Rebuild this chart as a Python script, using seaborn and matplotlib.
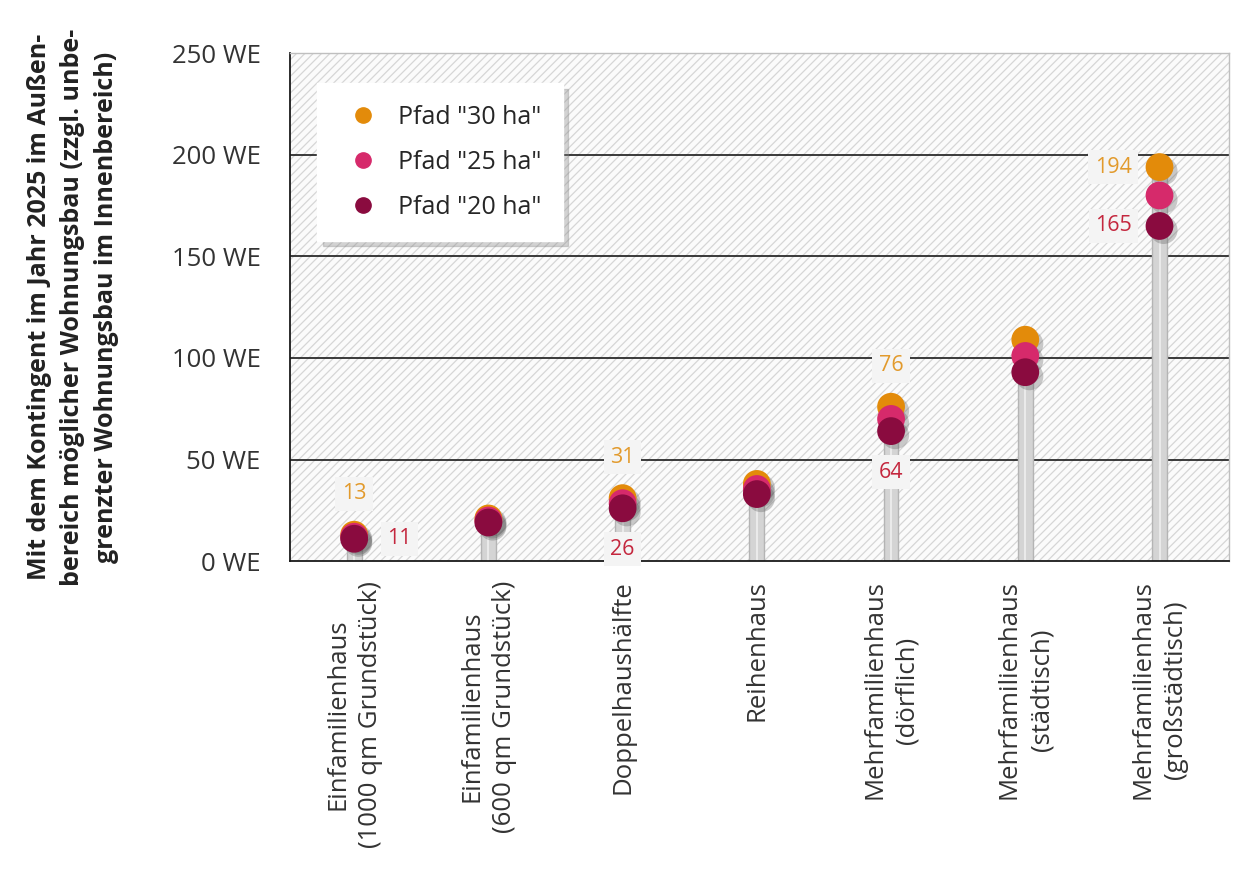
import pandas as pd
import matplotlib.pyplot as plt
import matplotlib.patheffects as pe
from matplotlib.lines import Line2D
from matplotlib.patches import Rectangle
import seaborn as sns

# Kategorien und Werte (WE) je Pfad
kategorien = [
    "Einfamilienhaus\n(1000 qm Grundstück)",
    "Einfamilienhaus\n(600 qm Grundstück)",
    "Doppelhaushälfte",
    "Reihenhaus",
    "Mehrfamilienhaus\n(dörflich)",
    "Mehrfamilienhaus\n(städtisch)",
    "Mehrfamilienhaus\n(großstädtisch)",
]
pfad_30 = [13, 21, 31, 38, 76, 109, 194]
pfad_25 = [12, 20, 28.5, 35.5, 70, 101, 180]
pfad_20 = [11, 19, 26, 33, 64, 93, 165]
pfade = ['Pfad "30 ha"', 'Pfad "25 ha"', 'Pfad "20 ha"']
farben = ["#E38B0A", "#D62A6B", "#8A0B3F"]
yticks = [0, 50, 100, 150, 200, 250]

# welche Werte beschriftet werden (Kategorie-Index)
labels_oben = [0, 2, 4]
labels_unten = [2, 4]

df = pd.DataFrame({
    "kategorie": kategorien * 3,
    "wert": pfad_30 + pfad_25 + pfad_20,
    "pfad": [pfade[0]] * 7 + [pfade[1]] * 7 + [pfade[2]] * 7,
})
df_stem = pd.DataFrame({"kategorie": kategorien, "wert": pfad_30})

sns.set_style("white")
plt.rcParams["font.family"] = ["Open Sans", "DejaVu Sans"]
plt.rcParams["hatch.linewidth"] = 0.9

fig = plt.figure(figsize=(12.33, 8.74), dpi=100)
ax = fig.add_axes([0.235, 0.358, 0.762, 0.581])

# schraffierter Hintergrund
ax.add_patch(Rectangle((0, 0), 1, 1, transform=ax.transAxes, facecolor="#fbfbfb",
                       edgecolor="#d6d6d6", hatch="////", lw=0, zorder=0))

# Gitterlinien
for yv in yticks[1:-1]:
    ax.axhline(yv, color="#1a1a1a", lw=1.2, zorder=1)

# Stiele
sns.barplot(data=df_stem, x="kategorie", y="wert", order=kategorien, width=0.11,
            color="#d4d4d4", edgecolor="#b4b4b4", linewidth=1.0, ax=ax, zorder=2)
ax.vlines(range(len(kategorien)), 0, pfad_30, color="#efefef", lw=1.2, zorder=2.5)

# Punkte
sns.stripplot(data=df, x="kategorie", y="wert", hue="pfad", order=kategorien,
              hue_order=pfade, palette=farben, jitter=False, dodge=False, size=20,
              linewidth=0, legend=False, ax=ax, zorder=4)
for coll in ax.collections:
    coll.set_path_effects([pe.SimplePatchShadow(offset=(3, -3), shadow_rgbFace="#555555", alpha=0.3),
                           pe.Normal()])

# Wertbeschriftungen
box = dict(boxstyle="square,pad=0.3", fc="#f4f4f4", ec="none")
fs_lab = 15.5
for i in labels_oben:
    ax.annotate(f"{pfad_30[i]:g}", (i, pfad_30[i]), xytext=(0, 22), textcoords="offset points",
                ha="center", va="bottom", fontsize=fs_lab, color="#E29A2C", bbox=box, zorder=5)
for i in labels_unten:
    ax.annotate(f"{pfad_20[i]:g}", (i, pfad_20[i]), xytext=(0, -22), textcoords="offset points",
                ha="center", va="top", fontsize=fs_lab, color="#C4273E", bbox=box, zorder=5)
ax.annotate(f"{pfad_20[0]:g}", (0, pfad_20[0]), xytext=(24, 0), textcoords="offset points",
            ha="left", va="center", fontsize=fs_lab, color="#C4273E", bbox=box, zorder=5)
ax.annotate(f"{pfad_30[6]:g}", (6, pfad_30[6]), xytext=(-20, 0), textcoords="offset points",
            ha="right", va="center", fontsize=fs_lab, color="#E29A2C", bbox=box, zorder=5)
ax.annotate(f"{pfad_20[6]:g}", (6, pfad_20[6]), xytext=(-20, 0), textcoords="offset points",
            ha="right", va="center", fontsize=fs_lab, color="#C4273E", bbox=box, zorder=5)

# Achsen
ax.set_xlim(-0.48, 6.52)
ax.set_ylim(0, 250)
ax.set_yticks(yticks)
ax.set_yticklabels([f"{v} WE" for v in yticks], fontsize=18.5, color="#333333")
ax.tick_params(axis="y", length=0, pad=21)
ax.tick_params(axis="x", length=0, pad=14)
ax.set_xticks(range(len(kategorien)))
ax.set_xticklabels(kategorien, rotation=90, fontsize=18.5, color="#333333",
                   ha="center", va="top", multialignment="center", linespacing=1.4)
ax.set_xlabel("")
ax.set_ylabel("Mit dem Kontingent im Jahr 2025 im Außen-\nbereich möglicher Wohnungsbau (zzgl. unbe-\n"
              "grenzter Wohnungsbau im Innenbereich)", fontsize=18, fontweight="bold",
              color="#222222", labelpad=38, linespacing=1.45)
for side in ["left", "bottom"]:
    ax.spines[side].set_color("#1a1a1a")
    ax.spines[side].set_linewidth(1.3)
for side in ["top", "right"]:
    ax.spines[side].set_color("#bfbfbf")
    ax.spines[side].set_linewidth(1.0)

# Legende
handles = [Line2D([], [], marker="o", ls="", color=c, markersize=11) for c in farben]
leg = ax.legend(handles, pfade, loc="upper left", bbox_to_anchor=(0.029, 0.941), fontsize=18,
                frameon=True, fancybox=False, borderpad=0.85, labelspacing=0.8,
                handletextpad=0.4, handlelength=2.0, borderaxespad=0,
                shadow={"ox": 4, "oy": -4, "color": "#888888", "alpha": 0.35})
leg.get_frame().set_edgecolor("white")
leg.get_frame().set_facecolor("white")
leg.set_zorder(6)

fig.savefig("out.png", dpi=100)
